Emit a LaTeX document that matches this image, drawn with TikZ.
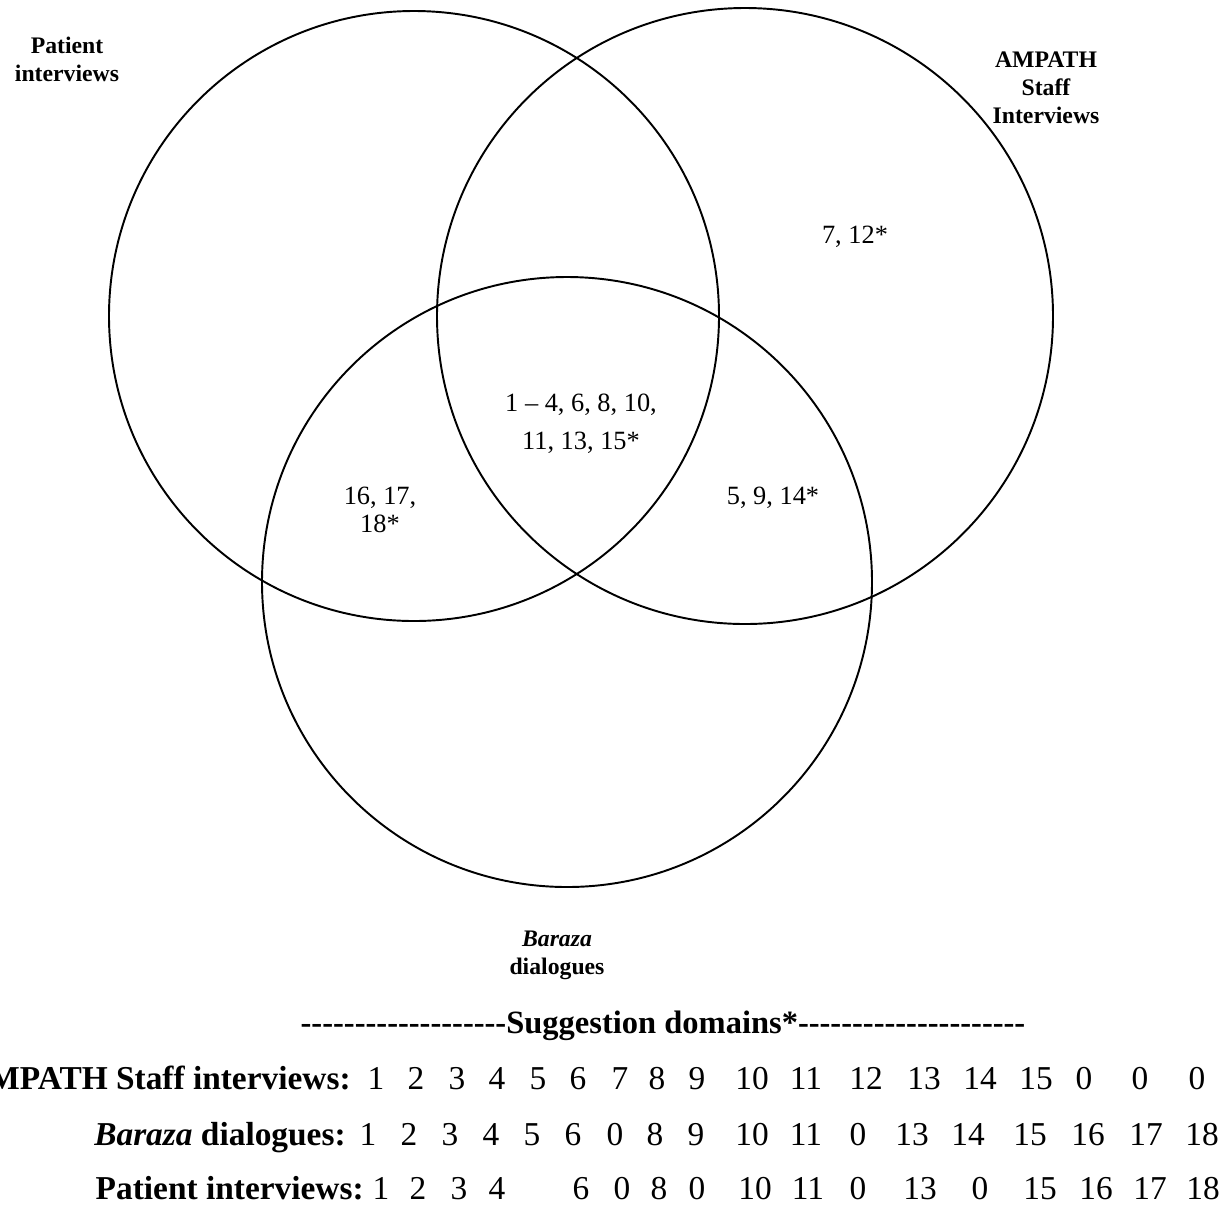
\documentclass[tikz,border=0pt]{standalone}
\usepackage{fontspec}
\setmainfont{Liberation Serif}
\newcommand\hyphrun[1]{\foreach \i in {1,...,#1}{-\kern0pt}}
\begin{document}
\begin{tikzpicture}[x=0.02cm,y=-0.02cm,
  ring/.style={line width=1.1pt},
  srclbl/.style={font=\bfseries\fontsize{13.5}{15.8}\selectfont,align=center},
  domlbl/.style={font=\fontsize{15}{21.5}\selectfont,align=center},
  rowlbl/.style={font=\bfseries\fontsize{19}{22}\selectfont,anchor=base east,inner sep=0pt},
  num/.style={font=\fontsize{19}{22}\selectfont,anchor=base,inner sep=0pt}]
\useasboundingbox (0,0) rectangle (1227,1205);

% the three sources
\coordinate (pat) at (414,316);
\coordinate (amp) at (745,316);
\coordinate (bar) at (567,582);
\draw[ring] (pat) circle[radius=305];
\draw[ring] (amp) circle[radius=308];
\draw[ring] (bar) circle[radius=305];

\node[srclbl] (patlbl) at (67,59) {Patient\\interviews};
\node[srclbl] (amplbl) at (1046,88) {AMPATH\\Staff\\Interviews};
\node[srclbl] (barlbl) at (557,955) {\textit{Baraza}\\dialogues};

% domains in each region
\node[domlbl] (d1) at (855,237) {7, 12*};
\node[domlbl] (d2) at (581,424) {1 – 4, 6, 8, 10,\\11, 13, 15*};
\node[domlbl,font=\fontsize{15}{15.5}\selectfont] (d3) at (380,510) {16, 17,\\18*};
\node[domlbl] (d4) at (773,498) {5, 9, 14*};

% table of domains
\node[font=\bfseries\fontsize{18.5}{22}\selectfont,anchor=base,inner sep=0pt] (head) at (663,1033)
  {\hyphrun{19}Suggestion domains*\hyphrun{21}};

\node[rowlbl] (r1) at (351,1089) {AMPATH Staff interviews:};
\foreach \x/\v in {376/1,416/2,457/3,497/4,538/5,578/6,620/7,657/8,697/9,752/10,
    806/11,866/12,924/13,980/14,1036/15,1084/0,1140/0,1197/0}
  \node[num] at (\x,1089) {\v};

\node[rowlbl] (r2) at (346,1145) {\textit{Baraza} dialogues:};
\foreach \x/\v in {368/1,409/2,450/3,491/4,532/5,573/6,615/0,655/8,696/9,752/10,
    806/11,858/0,912/13,968/14,1030/15,1088/16,1146/17,1202/18}
  \node[num] at (\x,1145) {\v};

\node[rowlbl] (r3) at (364,1199) {Patient interviews:};
\foreach \x/\v in {381/1,418/2,459/3,497/4,581/6,622/0,659/8,697/0,755/10,
    808/11,858/0,920/13,980/0,1040/15,1096/16,1150/17,1203/18}
  \node[num] at (\x,1199) {\v};
\end{tikzpicture}
\end{document}
